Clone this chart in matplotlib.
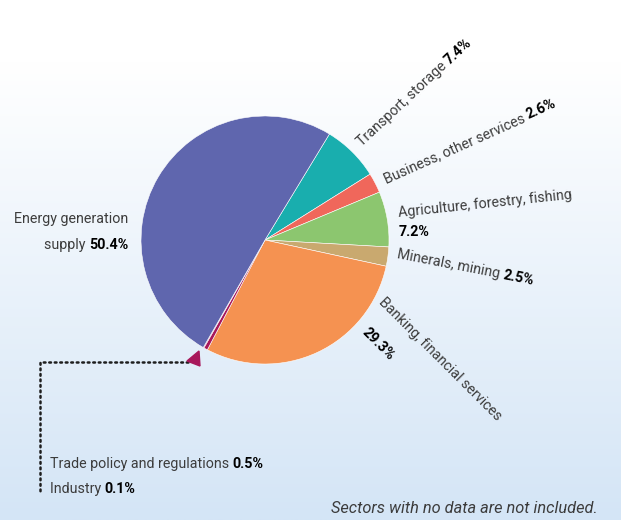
import numpy as np
import matplotlib.pyplot as plt
from matplotlib.patches import Polygon

# sector shares (%) in clockwise order starting from the top right
sectors = ['Transport, storage', 'Business, other services', 'Agriculture, forestry, fishing',
           'Minerals, mining', 'Banking, financial services', 'Trade policy and regulations',
           'Industry', 'Energy generation supply']
shares = [7.4, 2.6, 7.2, 2.5, 29.3, 0.5, 0.1, 50.4]
colors = ['#19AEAE', '#F0675B', '#8CC66F', '#C9A96F', '#F59251', '#A8185B', '#A8185B', '#5F66AE']

W, H = 621, 520
FONT = ['Roboto', 'DejaVu Sans']
FS = 10.3
GREY = '#3c3c3c'

fig = plt.figure(figsize=(W / 100, H / 100), dpi=100)
ax = fig.add_axes([0, 0, 1, 1])

# background gradient, white on top to pale blue at the bottom
rows = np.linspace(0, 1, 256)
t = np.clip((rows - 0.12) / 0.88, 0, 1)
top = np.array([1.0, 1.0, 1.0])
bot = np.array([212, 229, 246]) / 255
grad = top[None, :] * (1 - t[:, None]) + bot[None, :] * t[:, None]
ax.imshow(grad[:, None, :], extent=[0, W, 0, H], aspect='auto', zorder=0)


def Y(y):
    return H - y


cx, cy, r = 265, 240, 124
ax.pie(shares, colors=colors, startangle=58.7, counterclock=False,
       center=(cx, Y(cy)), radius=r, frame=True,
       wedgeprops=dict(edgecolor='white', linewidth=0.4))
ax.set_xlim(0, W)
ax.set_ylim(0, H)
ax.axis('off')
ax.set_aspect('auto')

renderer = fig.canvas.get_renderer()


def width(s, weight, size):
    t = ax.text(0, 0, s + '|', fontsize=size, fontweight=weight, family=FONT)
    t2 = ax.text(0, 0, '|', fontsize=size, fontweight=weight, family=FONT)
    w = t.get_window_extent(renderer).width - t2.get_window_extent(renderer).width
    t.remove()
    t2.remove()
    return w


def rich(x, y, parts, rot=0, size=FS):
    a = np.deg2rad(rot)
    px, py = x, Y(y)
    for s, wt in parts:
        ax.text(px, py, s, fontsize=size, fontweight=wt, family=FONT, rotation=rot,
                rotation_mode='anchor', ha='left', va='baseline',
                color='black' if wt == 'bold' else GREY, zorder=5)
        w = width(s, wt, size)
        px += w * np.cos(a)
        py += w * np.sin(a)


ax.text(128, Y(223), 'Energy generation', fontsize=FS, family=FONT, color=GREY,
        ha='right', va='baseline')
wb = width('50.4%', 'bold', FS)
ax.text(128, Y(249), '50.4%', fontsize=FS, family=FONT, fontweight='bold',
        ha='right', va='baseline')
ax.text(128 - wb, Y(249), 'supply ', fontsize=FS, family=FONT, color=GREY,
        ha='right', va='baseline')

rich(362, 147, [('Transport, storage ', 'normal'), ('7.4%', 'bold')], rot=43)
rich(386, 183, [('Business, other services ', 'normal'), ('2.6%', 'bold')], rot=24)
rich(399, 217, [('Agriculture, forestry, fishing', 'normal')], rot=6)
rich(399, 236, [('7.2%', 'bold')], rot=0)
rich(397, 258, [('Minerals, mining ', 'normal'), ('2.5%', 'bold')], rot=-11)
rich(378, 303, [('Banking, financial services', 'normal')], rot=-45)
rich(362, 333, [('29.3%', 'bold')], rot=-45)

# leader for the tiny slices
ax.plot([188, 40, 40], [Y(362), Y(362), Y(492)], color='#1e1e1e', lw=1.8,
        ls=(0, (0.7, 1.5)), dash_capstyle='round', zorder=4)
ax.add_patch(Polygon([[187, Y(361)], [199, Y(351)], [200, Y(366)]],
                     closed=True, color='#A8185B', zorder=5))
rich(50, 468, [('Trade policy and regulations ', 'normal'), ('0.5%', 'bold')])
rich(50, 493, [('Industry ', 'normal'), ('0.1%', 'bold')])

ax.text(598, Y(513), 'Sectors with no data are not included.', fontsize=11.8,
        family=FONT, style='italic', color=GREY, ha='right', va='baseline')

fig.savefig('out.png', dpi=100)
